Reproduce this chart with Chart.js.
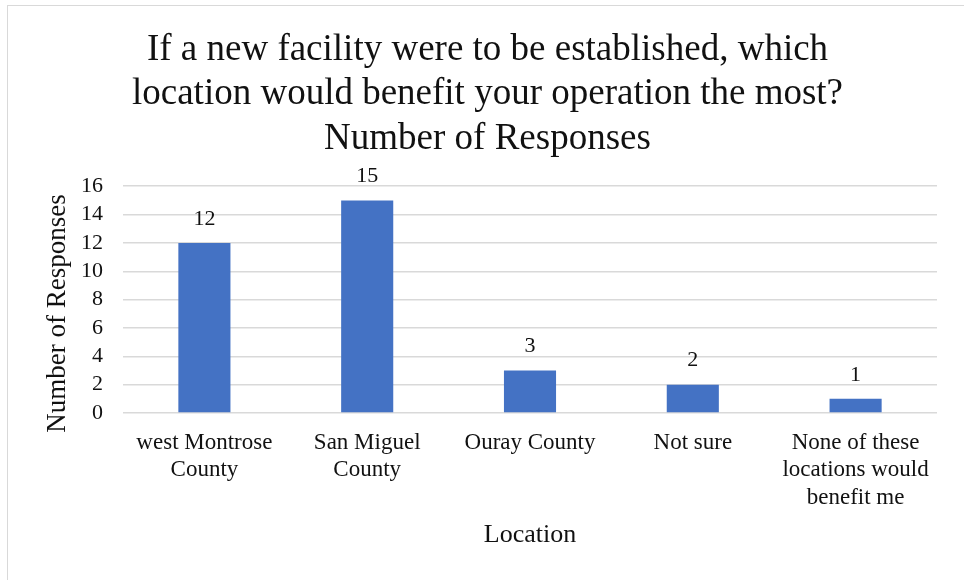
<!DOCTYPE html>
<html>
<head>
<meta charset="utf-8">
<script src="https://cdn.jsdelivr.net/npm/chart.js@4"></script>
<style>
  html, body { margin: 0; padding: 0; background: #fff; }
  #wrap { position: relative; width: 964px; height: 580px; }
  #frame { position: absolute; left: 7px; top: 5px; width: 980px; height: 600px; border: 1px solid #d9d9d9; box-sizing: border-box; }
</style>
</head>
<body>
<div id="wrap">
  <div id="frame"></div>
  <canvas id="chart" width="964" height="580"></canvas>
</div>
<script>
const categories = [
  ["west Montrose", "County"],
  ["San Miguel", "County"],
  ["Ouray County"],
  ["Not sure"],
  ["None of these", "locations would", "benefit me"]
];
const responses = [12, 15, 3, 2, 1];
const titleLines = [
  "If a new facility were to be established, which",
  "location would benefit your operation the most?",
  "Number of Responses"
];
const yTitle = "Number of Responses";

const serif = "'Liberation Serif', 'Times New Roman', serif";
const ink = "#111";

// numbers above each bar, plus the y axis title (sits a bit below the plot middle)
const barLabels = {
  id: "barLabels",
  afterDatasetsDraw(chart) {
    const ctx = chart.ctx;
    const meta = chart.getDatasetMeta(0);
    ctx.save();
    ctx.font = "22px " + serif;
    ctx.fillStyle = ink;
    ctx.textAlign = "center";
    ctx.textBaseline = "middle";
    meta.data.forEach((bar, i) => {
      ctx.fillText(String(responses[i]), bar.x, bar.y - 24);
    });

    const area = chart.chartArea;
    ctx.font = "27px " + serif;
    ctx.translate(58, (area.top + area.bottom) / 2 + 14);
    ctx.rotate(-Math.PI / 2);
    ctx.fillText(yTitle, 0, 0);
    ctx.restore();
  }
};

new Chart(document.getElementById("chart"), {
  type: "bar",
  data: {
    labels: categories,
    datasets: [{
      data: responses,
      backgroundColor: "#4472c4",
      categoryPercentage: 1,
      barPercentage: 0.32
    }]
  },
  options: {
    responsive: false,
    animation: false,
    layout: { padding: { top: 28, right: 27, left: 38, bottom: 29 } },
    plugins: {
      legend: { display: false },
      tooltip: { enabled: false },
      title: {
        display: true,
        text: titleLines,
        color: ink,
        font: { family: serif, size: 37, weight: "normal", lineHeight: 1.2 },
        padding: { top: 0, bottom: 25 }
      }
    },
    scales: {
      x: {
        afterFit: (s) => { s.height = 138; },
        grid: { display: false },
        border: { display: false },
        ticks: {
          color: ink,
          font: { family: serif, size: 23, lineHeight: 1.2 },
          maxRotation: 0,
          autoSkip: false,
          padding: 8
        },
        title: {
          display: true,
          text: "Location",
          color: ink,
          font: { family: serif, size: 26, lineHeight: 1.2 },
          padding: { top: 0, bottom: 0 }
        }
      },
      y: {
        afterFit: (s) => { s.width = 85; },
        min: 0,
        max: 16,
        ticks: {
          stepSize: 2,
          autoSkip: false,
          color: ink,
          font: { family: serif, size: 22 },
          padding: 20
        },
        grid: { color: "#d9d9d9", lineWidth: 1.5, drawTicks: false },
        border: { display: false },
        title: { display: false }
      }
    }
  },
  plugins: [barLabels]
});
</script>
</body>
</html>
